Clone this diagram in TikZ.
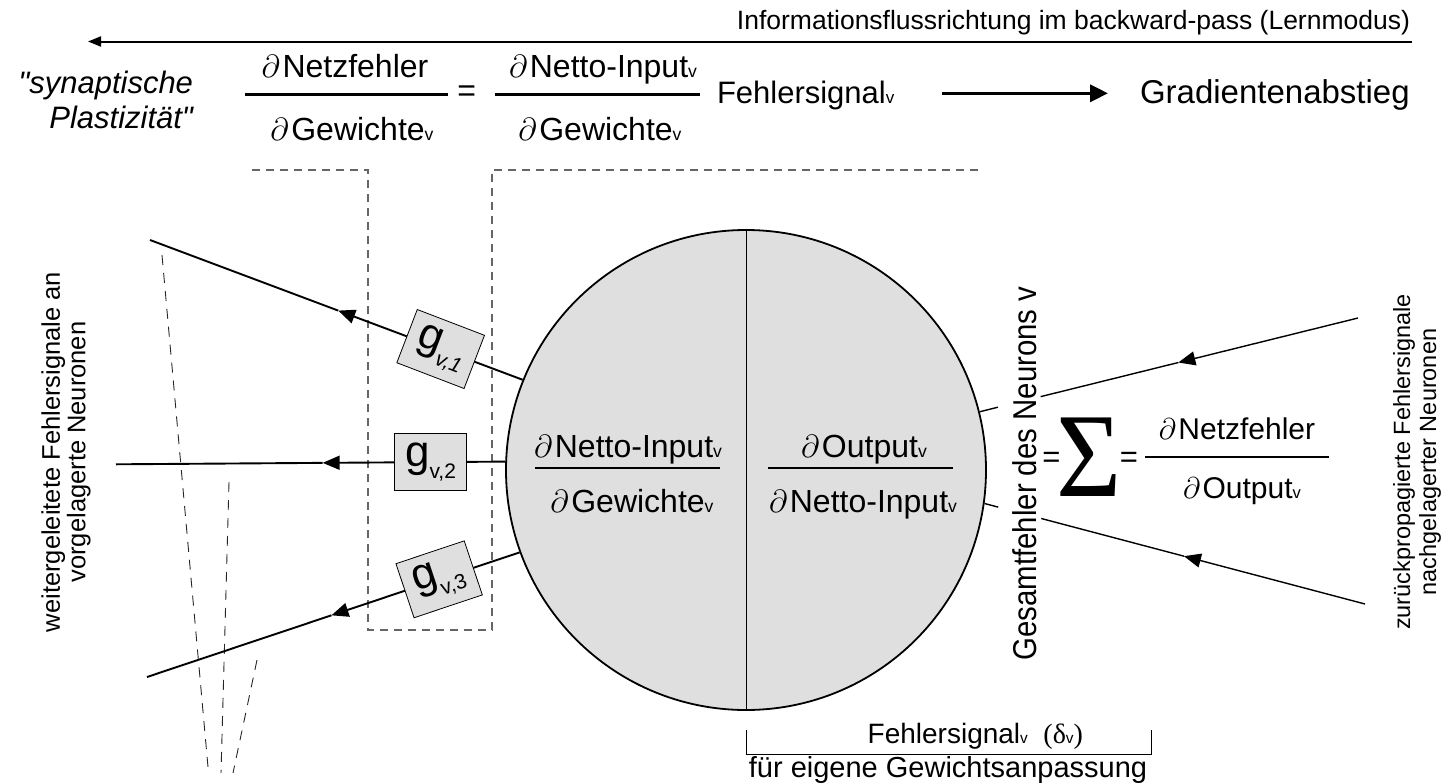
\RequirePackage{fix-cm}
\documentclass[tikz,border=0pt]{standalone}
\usepackage{fontspec}
\usepackage{graphicx}
\setmainfont{Liberation Sans}[Ligatures=TeXOff]
\newfontfamily\greekserif{Liberation Serif}
\usetikzlibrary{arrows.meta,calc}

\definecolor{cellgray}{HTML}{DFDFDF}
\newcommand\setfs[1]{\fontsize{#1}{#1}\selectfont}
\newcommand\pd{$\partial$\kern0.08em}
\newcommand\sbv[1]{\scalebox{0.55}{#1}}
\newcommand\gtxt[1]{{\setfs{44}g}\raisebox{-12pt}{\setfs{21}#1}}

\begin{document}
\begin{tikzpicture}[x=1pt,y=-1pt,
  lbl/.style={inner sep=0pt,outer sep=0pt},
  wire/.style={line width=1.9pt},
  rwire/.style={line width=1.4pt},
  headtip/.style={-{Triangle[length=17pt,width=14pt]}},
  bar/.style={line width=2.4pt},
  guide/.style={draw=black!60,line width=1.1pt,dash pattern=on 8pt off 6pt},
  fan/.style={draw=black!85,line width=0.9pt,dash pattern=on 10pt off 8pt},
  gbox/.style={draw,line width=0.8pt,fill=cellgray,minimum width=72pt,minimum height=57pt,inner sep=0pt},
]
\useasboundingbox (0,0) rectangle (1443,782);

% --- direction of information flow -------------------------------------
\node[lbl,anchor=base east,font=\setfs{26.5}] (flow) at (1410,29)
  {Informationsflussrichtung im backward-pass (Lernmodus)};
\coordinate (flowR) at (1412,41.5);
\coordinate (flowL) at (88,41.5);
\draw[line width=2pt,-{Triangle[length=13pt,width=10pt]}] (flowR) -- (flowL);

% --- weight update rule --------------------------------------------------
\node[lbl,anchor=base east,font=\setfs{31}\itshape] (syn) at (193,93) {"synaptische};
\node[lbl,anchor=base east,font=\setfs{31}\itshape] (pla) at (193,128) {Plastizität"};

\node[lbl,anchor=base,font=\setfs{32}] (topN1) at (345,77) {\pd Netzfehler};
\node[lbl,anchor=base,font=\setfs{32}] (topD1) at (352,140) {\pd Gewichte\sbv{v}};
\coordinate (bar1L) at (245,94.3); \coordinate (bar1R) at (448,94.3);
\draw[bar,line width=3pt] (bar1L) -- (bar1R);
\node[lbl,font=\setfs{32}] (eqTop) at (466.7,93.3) {=};
\node[lbl,anchor=base,font=\setfs{32}] (topN2) at (603,77) {\pd Netto-Input\sbv{v}};
\node[lbl,anchor=base,font=\setfs{32}] (topD2) at (600,140) {\pd Gewichte\sbv{v}};
\coordinate (bar2L) at (495,94.3); \coordinate (bar2R) at (700,94.3);
\draw[bar,line width=3pt] (bar2L) -- (bar2R);
\node[lbl,anchor=base west,font=\setfs{31}] (sig) at (717,103) {Fehlersignal\sbv{v}};
\node[lbl,anchor=base west,font=\setfs{33}] (descent) at (1140,103) {Gradientenabstieg};
\coordinate (gdL) at (942,93.3); \coordinate (gdR) at (1108,93.3);
\draw[line width=3.5pt,-{Triangle[length=18pt,width=17pt]}] (gdL) -- (gdR);

% --- dashed frames ---------------------------------------------------------
\draw[guide] (252,170) -- (368,170) -- (368,630) -- (492,630) -- (492,170) -- (981,170);
\draw[fan] (162,255) -- (208,767);
\draw[fan] (229,482) -- (221,773);
\draw[fan] (257,660) -- (233,773);

% --- the neuron ------------------------------------------------------------
\node[circle,draw,line width=1.8pt,fill=cellgray,minimum size=480pt,inner sep=0pt] (neuron) at (746,470) {};
\draw[line width=1pt] (neuron.north) -- (neuron.south);

\node[lbl,anchor=base,font=\setfs{32}] (inN1) at (628,457) {\pd Netto-Input\sbv{v}};
\node[lbl,anchor=base,font=\setfs{32}] (inD1) at (632,512) {\pd Gewichte\sbv{v}};
\coordinate (bar3L) at (535,468); \coordinate (bar3R) at (720,468);
\draw[bar] (bar3L) -- (bar3R);
\node[lbl,anchor=base,font=\setfs{32}] (inN2) at (864,457) {\pd Output\sbv{v}};
\node[lbl,anchor=base,font=\setfs{32}] (inD2) at (863,512) {\pd Netto-Input\sbv{v}};
\coordinate (bar4L) at (768,468); \coordinate (bar4R) at (953,468);
\draw[bar] (bar4L) -- (bar4R);

% --- outgoing error signals (left) ----------------------------------------
\coordinate (e1) at (150,240);
\coordinate (e2) at (116,464.3);
\coordinate (e3) at (147,677);
\coordinate (t1) at ($(e1)!0.505!(neuron.158.7)$);
\coordinate (t2) at ($(e2)!0.531!(neuron.178.64)$);
\coordinate (t3) at ($(e3)!0.495!(neuron.200)$);
\draw[wire,headtip] (neuron.158.7) -- (t1);
\draw[wire] (t1) -- (e1);
\draw[wire,headtip] (neuron.178.64) -- (t2);
\draw[wire] (t2) -- (e2);
\draw[wire,headtip] (neuron.200) -- (t3);
\draw[wire] (t3) -- (e3);

\node[gbox,rotate=-21] (g1) at ($(e1)!0.78!(neuron.158.7)$) {\gtxt{\itshape v,1}};
\node[gbox] (g2) at ($(e2)!0.808!(neuron.178.64)$) {\gtxt{v,2}};
\node[gbox,rotate=18.5] (g3) at ($(e3)!0.784!(neuron.200)$) {\gtxt{v,3}};

% --- incoming error signals (right) ---------------------------------------
\coordinate (r1) at (1358,318);
\coordinate (r2) at (1365,604);
\draw[rwire] (neuron.14) -- ($(neuron.14)!0.048!(r1)$);
\coordinate (q1) at ($(neuron.14)!0.161!(r1)$);
\coordinate (u1) at ($(neuron.14)!0.525!(r1)$);
\draw[rwire,headtip] (r1) -- (u1);
\draw[rwire] (u1) -- (q1);
\draw[rwire] (neuron.-8.85) -- ($(neuron.-8.85)!0.036!(r2)$);
\coordinate (q2) at ($(neuron.-8.85)!0.149!(r2)$);
\coordinate (u2) at ($(neuron.-8.85)!0.524!(r2)$);
\draw[rwire,headtip] (r2) -- (u2);
\draw[rwire] (u2) -- (q2);

\node[lbl,rotate=90,font=\setfs{33}] (total) at (1025,473.5) {\scalebox{0.89}[1]{Gesamtfehler des Neurons v}};
\node[lbl,font=\setfs{31}] (eqA) at (1051.5,459.5) {=};
\node[lbl] (sum) at (1089.5,457.5) {\scalebox{1.12}[1.2]{\greekserif\setfs{100}Σ}};
\node[lbl,font=\setfs{31}] (eqB) at (1129,459.5) {=};
\node[lbl,anchor=base,font=\setfs{30}] (outN) at (1237,439) {\pd Netzfehler};
\node[lbl,anchor=base,font=\setfs{30}] (outD) at (1242,498) {\pd Output\sbv{v}};
\coordinate (bar5L) at (1145,457); \coordinate (bar5R) at (1329,457);
\draw[bar,line width=2pt] (bar5L) -- (bar5R);

\node[lbl,rotate=90,align=center,font=\fontsize{23.5}{26}\selectfont] (incoming) at (1417,462)
  {zurückpropagierte Fehlersignale\\nachgelagerter Neuronen};
\node[lbl,rotate=90,align=center,font=\fontsize{25.5}{25.5}\selectfont] (outgoing) at (66,452)
  {weitergeleitete Fehlersignale an\\vorgelagerte Neuronen};

% --- error signal bracket --------------------------------------------------
\coordinate (brA) at (746,730); \coordinate (brB) at (746,754);
\coordinate (brC) at (1151,754); \coordinate (brD) at (1151,730);
\draw[line width=1pt] (brA) -- (brB) -- (brC) -- (brD);
\node[lbl,anchor=base east,font=\setfs{28}] (delta) at (1083,743)
  {Fehlersignal\sbv{v}\ \ {\greekserif(δ}\sbv{v}{\greekserif)}};
\node[lbl,anchor=base,font=\setfs{29}] (own) at (948,777) {für eigene Gewichtsanpassung};
\end{tikzpicture}
\end{document}
